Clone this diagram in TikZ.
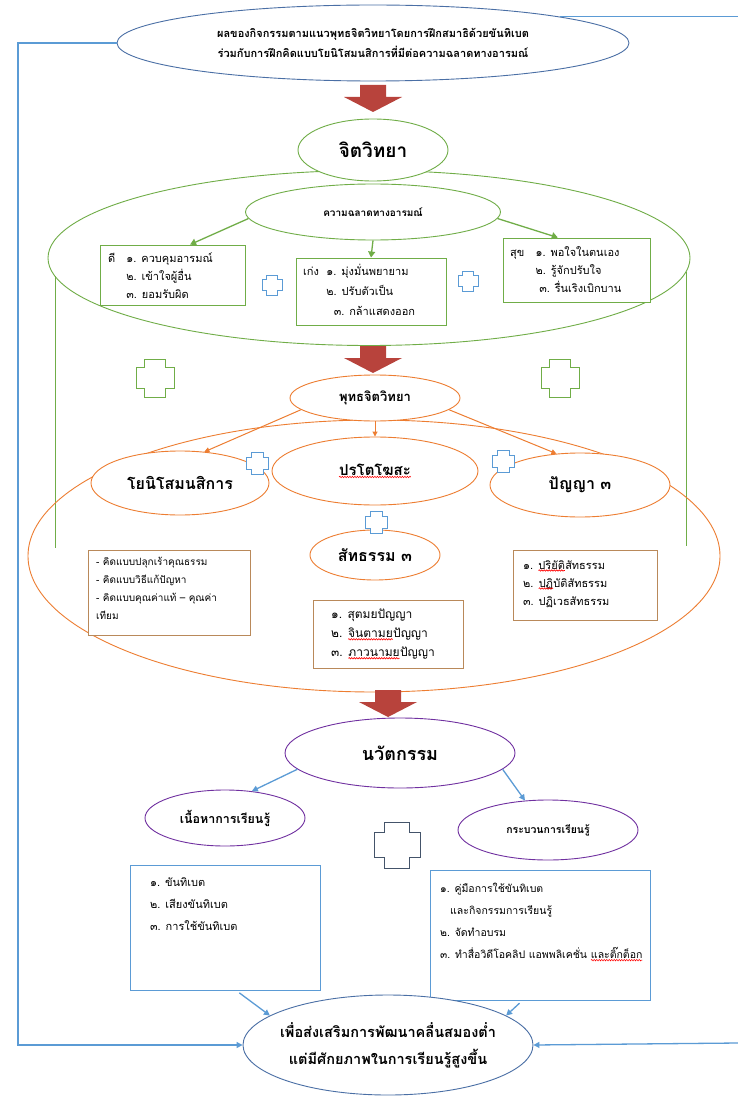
\documentclass[tikz,border=0pt]{standalone}
\usepackage{fontspec}
\setmainfont{Loma}[Script=Thai]
\usetikzlibrary{shapes.geometric,arrows.meta,decorations.pathmorphing}
\definecolor{grn}{HTML}{70AD47}
\definecolor{org}{HTML}{ED7D31}
\definecolor{obox}{HTML}{B9895A}
\definecolor{blu}{HTML}{5B9BD5}
\definecolor{tblu}{HTML}{4A6FA5}
\definecolor{pur}{HTML}{7030A0}
\definecolor{ared}{HTML}{B8433C}
\definecolor{slate}{HTML}{44546A}
\newcommand\plusmark[4]{%
\draw[#4] ({#1-0.55*#3},{#2-#3}) -- ({#1+0.55*#3},{#2-#3}) -- ({#1+0.55*#3},{#2-0.55*#3}) -- ({#1+#3},{#2-0.55*#3}) -- ({#1+#3},{#2+0.55*#3}) -- ({#1+0.55*#3},{#2+0.55*#3}) -- ({#1+0.55*#3},{#2+#3}) -- ({#1-0.55*#3},{#2+#3}) -- ({#1-0.55*#3},{#2+0.55*#3}) -- ({#1-#3},{#2+0.55*#3}) -- ({#1-#3},{#2-0.55*#3}) -- ({#1-0.55*#3},{#2-0.55*#3}) -- cycle;}
\newcommand\squig[1]{\tikz[baseline=(sqw.base)]{\node[rectangle,draw=none,fill=none,inner sep=0pt,outer sep=0pt,minimum width=0pt,minimum height=0pt] (sqw) {#1};\draw[red,line width=0.6pt,decorate,decoration={snake,amplitude=0.7pt,segment length=2.5pt}] ([yshift=-1.5pt]sqw.base west) -- ([yshift=-1.5pt]sqw.base east);}}
\begin{document}
\begin{tikzpicture}[x=1pt,y=-1pt,
  ell/.style={ellipse,draw,inner sep=0pt,fill=white,line width=0.9pt,align=center},
  lbl/.style={inner sep=0pt,align=center},
  box/.style={rectangle,draw,fill=white,line width=0.9pt,inner sep=0pt},
  txt/.style={inner sep=0pt,align=left,anchor=north west,font=\fontsize{11}{18}\selectfont},
  garr/.style={draw=grn,line width=1.3pt,-{Triangle[length=6pt,width=7pt]}},
  oarr/.style={draw=org,line width=1pt,-{Triangle[length=5pt,width=5pt]}},
  barr/.style={draw=blu,line width=1.3pt,-{Triangle[length=6pt,width=6pt]}},
  bline/.style={draw=blu,line width=1.3pt},
  redarr/.pic={\fill[ared] (-13,0) -- (13,0) -- (13,12) -- (29,12) -- (0,27) -- (-29,12) -- (-13,12) -- cycle;}
]
\useasboundingbox[fill=white] (0,0) rectangle (738,1099);

% ---------- top ----------
\node[ell,draw=tblu,minimum width=512pt,minimum height=76pt] (top) at (373,43) {};
\node[lbl,font=\bfseries\fontsize{11}{20}\selectfont] (topT) at (top.center)
 {ผลของกิจกรรมตามแนวพุทธจิตวิทยาโดยการฝึกสมาธิด้วยขันทิเบต\\ร่วมกับการฝึกคิดแบบโยนิโสมนสิการที่มีต่อความฉลาดทางอารมณ์};
\pic at (373,85) {redarr};

% ---------- green section ----------
\draw[grn,line width=0.9pt] (55,276) -- (55,548);
\draw[grn,line width=0.9pt] (686,272) -- (686,546);
\node[ellipse,draw=grn,line width=0.9pt,minimum width=642pt,minimum height=175pt] (bigG) at (369,258) {};
\node[ell,draw=grn,minimum width=150pt,minimum height=62pt,font=\bfseries\fontsize{19}{21}\selectfont] (jit) at (373,150) {จิตวิทยา};
\node[ell,draw=grn,minimum width=255pt,minimum height=56pt,font=\bfseries\fontsize{10}{12}\selectfont] (kw) at (373,212) {ความฉลาดทางอารมณ์};

\node[box,draw=grn,minimum width=145pt,minimum height=60pt] (gL) at (172.5,275) {};
\node[txt] (gLt) at (108,250) {\begin{tabular}{@{}l@{\ \ \ }l@{}}ดี & ๑. ควบคุมอารมณ์\\[0pt] & ๒. เข้าใจผู้อื่น\\[0pt] & ๓. ยอมรับผิด\end{tabular}};
\node[box,draw=grn,minimum width=150pt,minimum height=67pt] (gM) at (371,291.5) {};
\node[txt] (gMt) at (303,263) {\begin{tabular}{@{}l@{\ \ }l@{}}เก่ง & ๑. มุ่งมั่นพยายาม\\[2pt] & ๒. ปรับตัวเป็น\\[2pt] & ~~๓. กล้าแสดงออก\end{tabular}};
\node[box,draw=grn,minimum width=147pt,minimum height=64pt] (gR) at (576.5,270) {};
\node[txt] (gRt) at (510,244) {\begin{tabular}{@{}l@{\ \ \ }l@{}}สุข & ๑. พอใจในตนเอง\\[0pt] & ๒. รู้จักปรับใจ\\[0pt] & ~๓. รื่นเริงเบิกบาน\end{tabular}};

\draw[garr] (kw.183) -- (gL.60);
\draw[garr] (kw.south) -- (gM.north);
\draw[garr] (kw.-3) -- (gR.120);
\plusmark{272}{285}{10}{blu,line width=0.8pt,fill=white}
\plusmark{468}{281}{10}{blu,line width=0.8pt,fill=white}

\pic at (373,346) {redarr};
\plusmark{155}{378}{19}{grn,line width=0.9pt}
\plusmark{560}{378}{19}{grn,line width=0.9pt}

% ---------- orange section ----------
\node[ellipse,draw=org,line width=0.9pt,minimum width=692pt,minimum height=272pt] (bigO) at (374,556) {};
\node[ell,draw=org,minimum width=170pt,minimum height=46pt,font=\bfseries\fontsize{13}{15}\selectfont] (put) at (375,398) {พุทธจิตวิทยา};
\node[ell,draw=org,minimum width=206pt,minimum height=68pt,font=\bfseries\fontsize{15}{17}\selectfont] (para) at (375,471) {\squig{ปรโตโฆสะ}};
\node[ell,draw=org,minimum width=178pt,minimum height=64pt,font=\bfseries\fontsize{16}{18}\selectfont] (yoni) at (180,483) {โยนิโสมนสิการ};
\node[ell,draw=org,minimum width=180pt,minimum height=64pt,font=\bfseries\fontsize{16}{18}\selectfont] (pan) at (580,485) {ปัญญา ๓};
\node[ell,draw=org,minimum width=130pt,minimum height=50pt,font=\bfseries\fontsize{16}{18}\selectfont] (sat) at (375,555) {สัทธรรม ๓};

\draw[oarr] (put.189) -- (yoni.52);
\draw[oarr] (put.south) -- (para.north);
\draw[oarr] (put.-9) -- (pan.127);

\plusmark{257}{463}{11}{blu,line width=0.8pt,fill=white}
\plusmark{503}{461}{11}{blu,line width=0.8pt,fill=white}
\plusmark{376}{522}{11}{blu,line width=0.8pt,fill=white}

\node[box,draw=obox,minimum width=162pt,minimum height=85pt] (oL) at (169,592.5) {};
\node[txt,font=\fontsize{10}{18}\selectfont] (oLt) at (96,557) {- คิดแบบปลุกเร้าคุณธรรม\\- คิดแบบวิธีแก้ปัญหา\\- คิดแบบคุณค่าแท้ -- คุณค่า\\เทียม};
\node[box,draw=obox,minimum width=150pt,minimum height=68pt] (oM) at (388,634) {};
\node[txt,font=\fontsize{12}{19}\selectfont] (oMt) at (331,609) {๑. สุตมยปัญญา\\๒. \squig{จินตามย}ปัญญา\\๓. \squig{ภาวนามย}ปัญญา};
\node[box,draw=obox,minimum width=144pt,minimum height=70pt] (oR) at (585,585) {};
\node[txt,font=\fontsize{11}{18}\selectfont] (oRt) at (523,560) {๑. \squig{ปริยัติ}สัทธรรม\\๒. \squig{ปฏิ}บัติสัทธรรม\\๓. ปฏิเวธสัทธรรม};

% ---------- blue / purple section ----------
\pic at (388,690) {redarr};
\node[ell,draw=pur,minimum width=230pt,minimum height=70pt,font=\bfseries\fontsize{18}{20}\selectfont] (nav) at (400,753) {นวัตกรรม};
\node[ell,draw=pur,minimum width=160pt,minimum height=56pt,font=\bfseries\fontsize{12.5}{14}\selectfont] (nue) at (225,818) {เนื้อหาการเรียนรู้};
\node[ell,draw=pur,minimum width=180pt,minimum height=60pt,font=\bfseries\fontsize{10.5}{12}\selectfont] (kra) at (548,830) {กระบวนการเรียนรู้};
\draw[barr] (nav.189) -- (nue.45);
\draw[barr] (nav.-9) -- (kra.128);
\plusmark{397}{845}{23}{slate,line width=0.9pt,fill=white}

\node[box,draw=blu,minimum width=190pt,minimum height=125pt] (bL) at (225,927.5) {};
\node[txt,font=\fontsize{11}{22}\selectfont] (bLt) at (150,877) {๑. ขันทิเบต\\๒. เสียงขันทิเบต\\๓. การใช้ขันทิเบต};
\node[box,draw=blu,minimum width=220pt,minimum height=130pt] (bR) at (540,935) {};
\node[txt,font=\fontsize{10.5}{22}\selectfont] (bRt) at (440,883) {๑. คู่มือการใช้ขันทิเบต\\\hspace*{10pt}และกิจกรรมการเรียนรู้\\๒. จัดทำอบรม\\๓. ทำสื่อวิดีโอคลิป แอพพลิเคชั่น \squig{และติ๊กต็อก}};

\node[ell,draw=tblu,minimum width=290pt,minimum height=100pt] (bot) at (388,1045) {};
\node[lbl,font=\bfseries\fontsize{14.5}{27}\selectfont] (botT) at (bot.center) {เพื่อส่งเสริมการพัฒนาคลื่นสมองต่ำ\\แต่มีศักยภาพในการเรียนรู้สูงขึ้น};
\draw[barr,shorten <=4pt] (bL.-80) -- (bot.166);
\draw[barr,shorten <=4pt] (bR.-105) -- (bot.14);

% ---------- outer feedback lines ----------
\coordinate (lx) at (18,500);
\coordinate (rtop) at (738,20);
\coordinate (rbot) at (738,1043);
\draw[barr] (top.west) -| (lx) |- (bot.west);
\draw[bline] (top.8) -- (top.8 -| rtop);
\draw[barr] (rbot) -- (bot.east);
\end{tikzpicture}
\end{document}
